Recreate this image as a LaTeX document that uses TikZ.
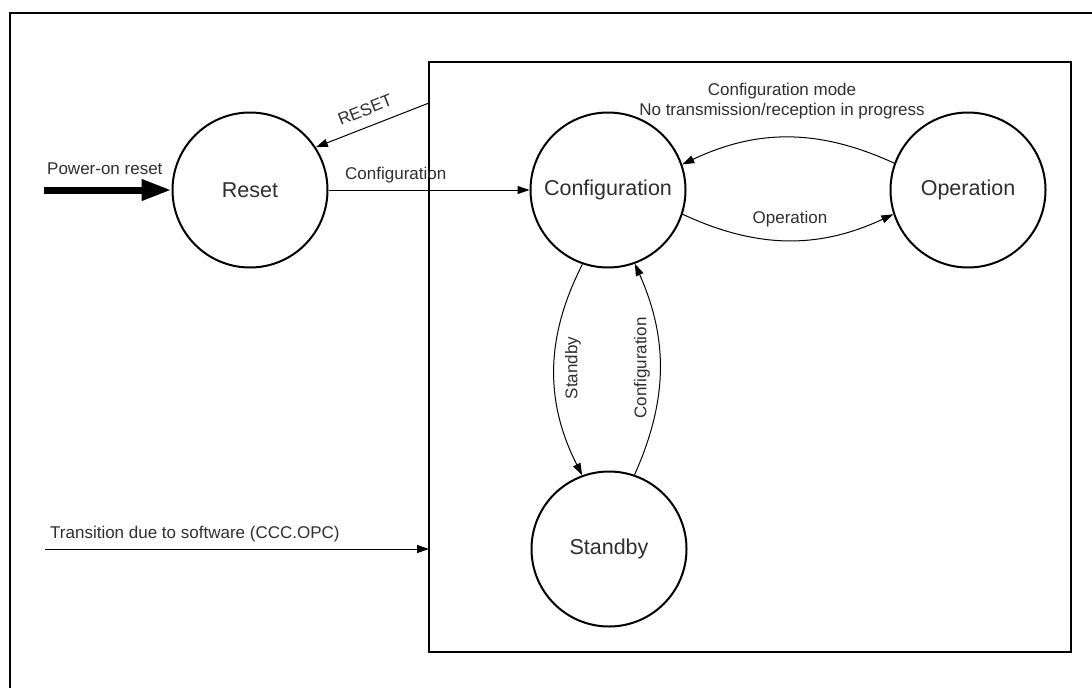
\documentclass[tikz,border=0pt]{standalone}
\usepackage{fontspec}
\setmainfont{Liberation Sans}
\usetikzlibrary{arrows.meta}
\begin{document}
\begin{tikzpicture}[x=1pt,y=-1pt,
  statenode/.style={circle,draw,line width=2pt,minimum size=155pt,inner sep=0pt,
    font=\fontsize{21.5}{25}\selectfont,text=black!82},
  lbl/.style={font=\fontsize{17}{20}\selectfont,text=black!82,inner sep=0pt},
  conn/.style={line width=1pt,-{Triangle[length=12pt,width=8pt]}},
  frameline/.style={line width=2pt}]
\useasboundingbox (0,0) rectangle (1092,688);
% outer frame (clipped)
\draw[frameline] (10,688) -- (10,13) -- (1092,13);
% inner box
\draw[frameline] (429,62) rectangle (1071,652);
% states
\node[statenode] (reset) at (250,190) {Reset};
\node[statenode] (cfg) at (608,190) {Configuration};
\node[statenode] (op) at (968,190) {Operation};
\node[statenode] (sb) at (609,549) {Standby};
% free ends
\coordinate (pwr) at (44,190);
\coordinate (rs) at (429,103);
\coordinate (ts) at (45,549);
\coordinate (te) at (429,549);
% power-on reset
\draw[line width=7pt,-{Triangle[length=30pt,width=20pt]}] (pwr) -- (reset.west);
\node[lbl,anchor=west] (lpwr) at (47,169) {Power-on reset};
% RESET
\draw[conn] (rs) -- (reset.33);
\node[lbl,rotate=21.7] (lrs) at (365,110) {RESET};
% Reset -> Configuration
\draw[conn] (reset.east) -- (cfg.west);
\node[lbl,anchor=west] (lrc) at (345,175) {Configuration};
% Configuration -> Operation
\draw[conn] (cfg.-18) to[bend right=25] (op.198);
\node[lbl] (lop) at (790,219) {Operation};
% Operation -> Configuration
\draw[conn] (op.160) to[bend right=25] (cfg.19);
\node[lbl,align=center] (lcm) at (782,101) {Configuration mode\\No transmission/reception in progress};
% Configuration -> Standby
\draw[conn] (cfg.-109) to[bend right=27] (sb.110);
\node[lbl,rotate=90] (lsb) at (573,368) {Standby};
% Standby -> Configuration
\draw[conn] (sb.71) to[bend right=24] (cfg.-70);
\node[lbl,rotate=90] (lsc) at (642,368) {Configuration};
% software transition
\draw[conn] (ts) -- (te);
\node[lbl,anchor=west] (lts) at (50,534) {Transition due to software (CCC.OPC)};
\end{tikzpicture}
\end{document}
